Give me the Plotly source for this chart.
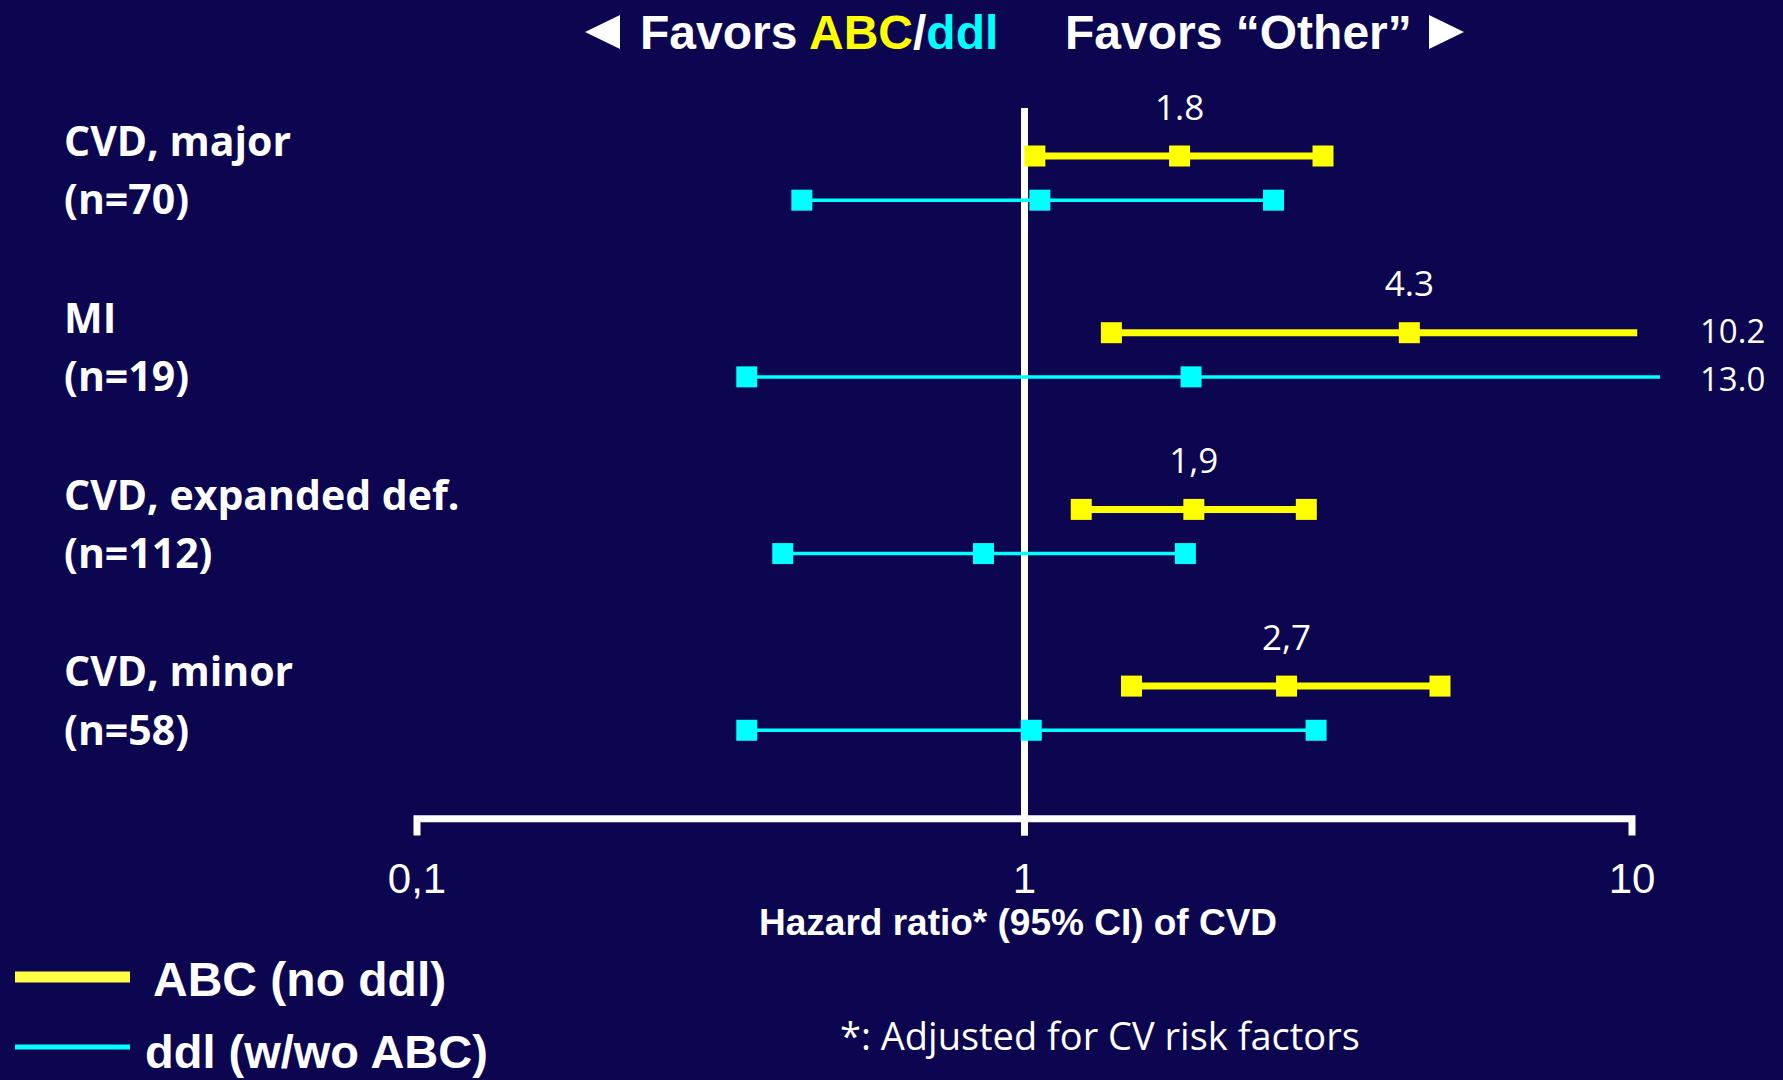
import math
import plotly.graph_objects as go

# ---- data -------------------------------------------------------------
categories = ["CVD, major", "MI", "CVD, expanded def.", "CVD, minor"]
n_events = [70, 19, 112, 58]

abc_low = [1.04, 1.39, 1.24, 1.50]
abc_est = [1.8, 4.3, 1.9, 2.7]
abc_high = [3.1, 10.2, 2.91, 4.83]
abc_est_text = ["1.8", "4.3", "1,9", "2,7"]

ddl_low = [0.43, 0.349, 0.40, 0.349]
ddl_est = [1.06, 1.88, 0.856, 1.026]
ddl_high = [2.57, 13.0, 1.84, 3.02]

tick_vals = [0.1, 1, 10]
tick_text = ["0,1", "1", "10"]

series_names = ["ABC (no ddl)", "ddl (w/wo ABC)"]

# ---- style ------------------------------------------------------------
BG = "#0b064f"
YELLOW = "#ffff00"
CYAN = "#00ffff"
WHITE = "#ffffff"
W, H = 1783, 1080
SCALE_MAX = 10          # upper end of the drawn scale; CIs beyond it get no end cap
DDL_OFFSET = 0.25       # vertical offset of the ddl row under its category
AXIS_Y = 3.75           # y of the horizontal scale line (row units)
TICK_Y = 3.845

abc_rows = list(range(len(categories)))
ddl_rows = [r + DDL_OFFSET for r in abc_rows]


def seg_xy(lows, highs, rows):
    xs, ys = [], []
    for lo, hi, r in zip(lows, highs, rows):
        xs += [lo, hi, None]
        ys += [r, r, None]
    return xs, ys


def cap_xy(lows, ests, highs, rows):
    xs, ys = [], []
    for lo, est, hi, r in zip(lows, ests, highs, rows):
        pts = [lo, est] + ([hi] if hi <= SCALE_MAX else [])
        xs += pts
        ys += [r] * len(pts)
    return xs, ys


fig = go.Figure()

# reference line at HR = 1
fig.add_trace(go.Scatter(x=[1, 1], y=[-0.272, TICK_Y], mode="lines",
                         line=dict(color=WHITE, width=7), hoverinfo="skip",
                         showlegend=False))

# scale line with end / middle ticks
fig.add_trace(go.Scatter(
    x=[tick_vals[0], tick_vals[0], tick_vals[-1], tick_vals[-1], None, tick_vals[1], tick_vals[1]],
    y=[TICK_Y, AXIS_Y, AXIS_Y, TICK_Y, None, AXIS_Y, TICK_Y],
    mode="lines", line=dict(color=WHITE, width=7), hoverinfo="skip",
    showlegend=False))

# ddl intervals
x, y = seg_xy(ddl_low, ddl_high, ddl_rows)
fig.add_trace(go.Scatter(x=x, y=y, mode="lines", line=dict(color=CYAN, width=3.5),
                         name=series_names[1], showlegend=False))
x, y = cap_xy(ddl_low, ddl_est, ddl_high, ddl_rows)
fig.add_trace(go.Scatter(x=x, y=y, mode="markers",
                         marker=dict(symbol="square", size=21, color=CYAN),
                         name=series_names[1], showlegend=False))

# ABC intervals
x, y = seg_xy(abc_low, abc_high, abc_rows)
fig.add_trace(go.Scatter(x=x, y=y, mode="lines", line=dict(color=YELLOW, width=7),
                         name=series_names[0], showlegend=False))
x, y = cap_xy(abc_low, abc_est, abc_high, abc_rows)
fig.add_trace(go.Scatter(x=x, y=y, mode="markers",
                         marker=dict(symbol="square", size=21, color=YELLOW),
                         name=series_names[0], showlegend=False))

# point-estimate labels above the ABC rows
fig.add_trace(go.Scatter(x=abc_est, y=[r - 0.255 for r in abc_rows], mode="text",
                         text=abc_est_text, textposition="middle center",
                         textfont=dict(family="Open Sans", size=35, color=WHITE),
                         hoverinfo="skip", showlegend=False))

annotations = []

# category labels
for cat, n, r, rd in zip(categories, n_events, abc_rows, ddl_rows):
    annotations.append(dict(xref="paper", yref="y", x=62 / W, y=r - 0.09,
                            xanchor="left", yanchor="middle", showarrow=False,
                            text=f"<b>{cat}</b>",
                            font=dict(family="Open Sans", size=41, color=WHITE)))
    annotations.append(dict(xref="paper", yref="y", x=62 / W, y=rd - 0.01,
                            xanchor="left", yanchor="middle", showarrow=False,
                            text=f"<b>(n={n})</b>",
                            font=dict(family="Open Sans", size=41, color=WHITE)))

# upper limits that run past the scale
for hi, r in zip(abc_high, abc_rows):
    if hi > SCALE_MAX:
        annotations.append(dict(xref="paper", yref="y", x=1732 / W, y=r - 0.01,
                                xanchor="center", yanchor="middle", showarrow=False,
                                text=f"{hi:.1f}",
                                font=dict(family="Open Sans", size=33, color=WHITE)))
for hi, r in zip(ddl_high, ddl_rows):
    if hi > SCALE_MAX:
        annotations.append(dict(xref="paper", yref="y", x=1732 / W, y=r + 0.01,
                                xanchor="center", yanchor="middle", showarrow=False,
                                text=f"{hi:.1f}",
                                font=dict(family="Open Sans", size=33, color=WHITE)))

# header
annotations.append(dict(xref="paper", yref="paper", x=638 / W, y=1 - 32 / H,
                        xanchor="left", yanchor="middle", showarrow=False,
                        text=f"<b>Favors <span style='color:{YELLOW}'>ABC</span>/"
                             f"<span style='color:{CYAN}'>ddl</span></b>",
                        font=dict(family="Liberation Sans", size=48, color=WHITE)))
annotations.append(dict(xref="paper", yref="paper", x=1063 / W, y=1 - 32 / H,
                        xanchor="left", yanchor="middle", showarrow=False,
                        text="<b>Favors \u201cOther\u201d</b>",
                        font=dict(family="Liberation Sans", size=48, color=WHITE)))

# axis title
annotations.append(dict(xref="paper", yref="paper", x=1018 / W, y=1 - 922 / H,
                        xanchor="center", yanchor="middle", showarrow=False,
                        text="<b>Hazard ratio* (95% CI) of CVD</b>",
                        font=dict(family="Liberation Sans", size=37, color=WHITE)))

# legend text
annotations.append(dict(xref="paper", yref="paper", x=151 / W, y=1 - 979 / H,
                        xanchor="left", yanchor="middle", showarrow=False,
                        text=f"<b>{series_names[0]}</b>",
                        font=dict(family="Liberation Sans", size=48, color=WHITE)))
annotations.append(dict(xref="paper", yref="paper", x=143 / W, y=1 - 1051 / H,
                        xanchor="left", yanchor="middle", showarrow=False,
                        text=f"<b>{series_names[1]}</b>",
                        font=dict(family="Liberation Sans", size=47, color=WHITE)))

# footnote
annotations.append(dict(xref="paper", yref="paper", x=1100 / W, y=1 - 1035 / H,
                        xanchor="center", yanchor="middle", showarrow=False,
                        text="*: Adjusted for CV risk factors",
                        font=dict(family="Open Sans", size=38, color=WHITE)))


def px(xp, yp):
    return f"{xp / W:.5f},{1 - yp / H:.5f}"


shapes = [
    # header arrows
    dict(type="path", xref="paper", yref="paper",
         path=f"M{px(585, 32)} L{px(620, 15)} L{px(620, 49)} Z",
         fillcolor=WHITE, line=dict(width=0)),
    dict(type="path", xref="paper", yref="paper",
         path=f"M{px(1464, 32)} L{px(1429, 15)} L{px(1429, 49)} Z",
         fillcolor=WHITE, line=dict(width=0)),
    # legend keys
    dict(type="line", xref="paper", yref="paper",
         x0=15 / W, x1=130 / W, y0=1 - 977 / H, y1=1 - 977 / H,
         line=dict(color="#ffff44", width=11)),
    dict(type="line", xref="paper", yref="paper",
         x0=15 / W, x1=130 / W, y0=1 - 1047 / H, y1=1 - 1047 / H,
         line=dict(color=CYAN, width=5)),
]

decade_px = (1632 - 417) / 2
x_left = -1 - 417 / decade_px
x_right = 1 + (1660 - 1632) / decade_px
plot_bottom = 836
y_top = -156 / 176.7
y_bottom = y_top + plot_bottom / 176.7

fig.update_layout(
    width=W, height=H,
    margin=dict(l=0, r=0, t=0, b=0),
    paper_bgcolor=BG, plot_bgcolor=BG,
    annotations=annotations, shapes=shapes,
    showlegend=False,
    xaxis=dict(type="log", range=[x_left, x_right], domain=[0, 1660 / W],
               tickvals=tick_vals, ticktext=tick_text, ticks="",
               showline=False, showgrid=False, zeroline=False,
               ticklabelstandoff=14,
               tickfont=dict(family="Liberation Sans", size=42, color=WHITE)),
    yaxis=dict(range=[y_bottom, y_top], domain=[1 - plot_bottom / H, 1],
               showticklabels=False, showgrid=False, zeroline=False,
               showline=False, ticks=""),
)

fig.write_html("out.html")
